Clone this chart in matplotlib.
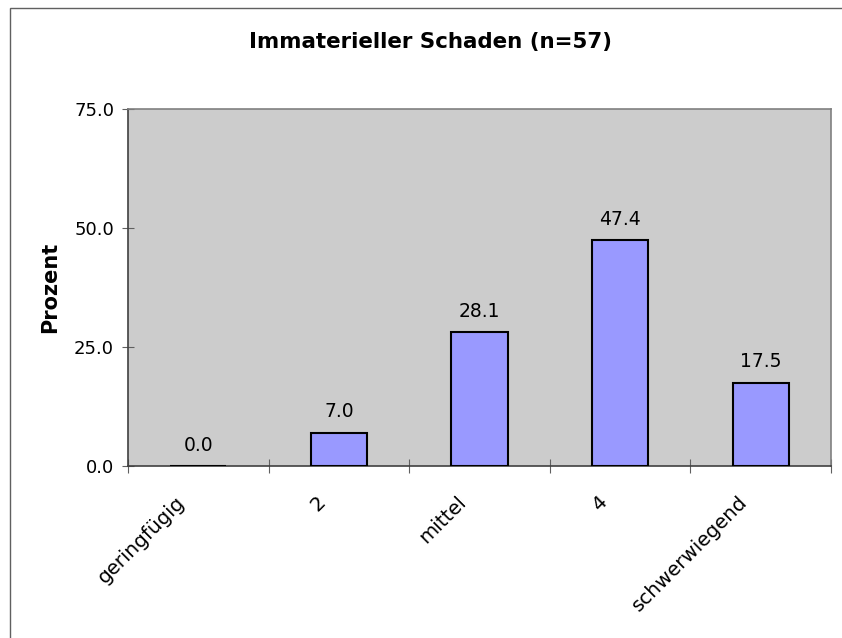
import matplotlib
matplotlib.use("Agg")
import matplotlib.pyplot as plt
from matplotlib.patches import Rectangle

categories = ["geringfügig", "2", "mittel", "4", "schwerwiegend"]
values = [0.0, 7.0, 28.1, 47.4, 17.5]
yticks = [0.0, 25.0, 50.0, 75.0]
title = "Immaterieller Schaden (n=57)"
ylabel = "Prozent"

plt.rcParams['font.family'] = ['DejaVu Sans']

W, H = 842, 638
fig = plt.figure(figsize=(W / 100, H / 100), dpi=100)
ax = fig.add_axes([128 / W, 1 - 466 / H, (831 - 128) / W, (466 - 109) / H])
ax.set_facecolor('#CCCCCC')

x = list(range(len(categories)))
ax.bar(x, values, width=0.4, color='#9999FF', edgecolor='black', linewidth=1.5, zorder=3)
for xi, v in zip(x, values):
    ax.annotate(f"{v:.1f}", xy=(xi, v), xytext=(0, 11), textcoords='offset points',
                ha='center', va='baseline', fontsize=13.5, color='black')

ax.set_xlim(-0.5, len(categories) - 0.5)
ax.set_ylim(0, 75)
ax.set_yticks(yticks)
ax.set_yticklabels([f"{t:.1f}" for t in yticks], fontsize=13)
ax.set_xticks([i - 0.5 for i in range(len(categories) + 1)])
ax.set_xticklabels([])
ax.tick_params(axis='x', which='major', direction='inout', length=10, width=0.8, color='#606060')
ax.tick_params(axis='y', direction='inout', length=8, width=0.8, color='#606060', pad=6)

# rotated category labels
for xi, cat in zip(x, categories):
    ax.annotate(cat, xy=(xi, 0), xycoords=('data', 'axes fraction'),
                xytext=(-16 * 0.72, -33 * 0.72), textcoords='offset points',
                rotation=45, ha='right', va='center', rotation_mode='anchor',
                fontsize=14.3, annotation_clip=False)

for s in ['left', 'bottom']:
    ax.spines[s].set_color('#404040')
    ax.spines[s].set_linewidth(1.2)
for s in ['top', 'right']:
    ax.spines[s].set_color('#808080')
    ax.spines[s].set_linewidth(1.2)

ax.set_ylabel(ylabel, fontsize=15, fontweight='bold', labelpad=10)
fig.text(430 / W, 1 - 42 / H, title, ha='center', va='center', fontsize=15.4, fontweight='bold')

fig.patches.append(Rectangle((10 / W, -0.05), 1.1, 1 - 8 / H + 0.05, transform=fig.transFigure,
                             fill=False, edgecolor='#606060', linewidth=1.0))

fig.savefig("out.png", dpi=100)
